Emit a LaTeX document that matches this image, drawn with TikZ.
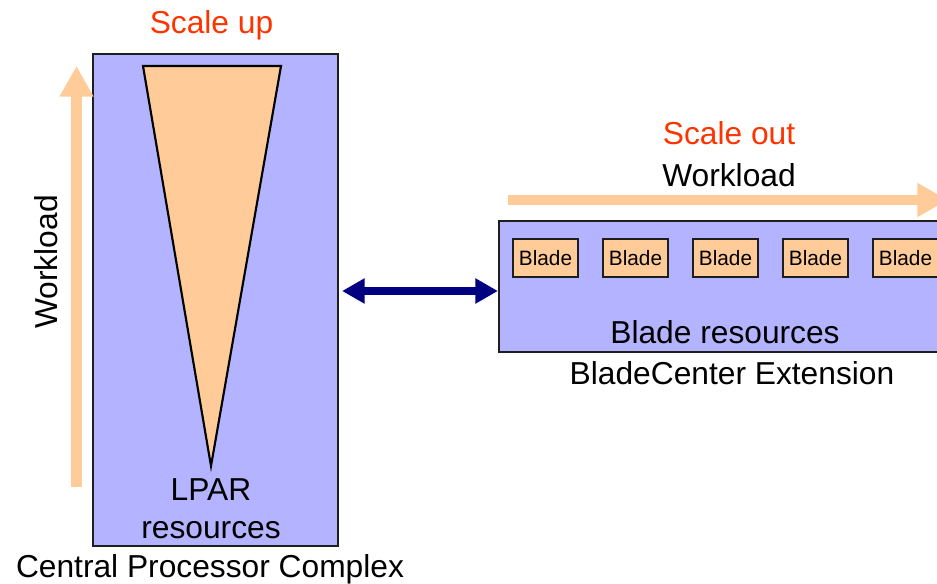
\documentclass[tikz,border=0pt]{standalone}
\usepackage{fontspec}
\setmainfont{Liberation Sans}
\usetikzlibrary{arrows.meta,fit}
\definecolor{lav}{RGB}{179,179,255}
\definecolor{peach}{RGB}{255,204,153}
\definecolor{scalered}{RGB}{255,51,0}
\definecolor{navyarrow}{RGB}{0,0,128}
\definecolor{rim}{RGB}{30,30,30}
\begin{document}
\begin{tikzpicture}[x=0.75pt,y=-0.75pt,
  panel/.style={draw=rim, line width=1.6pt, fill=lav, inner sep=0pt},
  bladebox/.style={draw=rim, line width=1pt, fill=peach, minimum width=48.75pt,
    minimum height=28.5pt, inner sep=0pt, font=\fontsize{15.6}{18}\selectfont},
  lbl/.style={font=\fontsize{23.8}{28}\selectfont, anchor=base, inner sep=0pt},
  scalelbl/.style={lbl, text=scalered},
  loadarrow/.style={draw=peach, line width=8pt,
    -{Triangle[width=24pt, length=23pt]}},
  linkarrow/.style={draw=navyarrow, line width=6pt,
    {Triangle[width=18pt, length=17pt]}-{Triangle[width=18pt, length=17pt]}},
]
\useasboundingbox (0,0) rectangle (937,584);

% Central Processor Complex
\node[panel, fit={(93,54) (338,546)}] (cpc) {};
\draw[black, line width=1.6pt, fill=peach, line join=miter]
  (143,66) -- (281,66) -- (211,466) -- cycle;
\node[lbl] (lpar) at (211,500) {LPAR};
\node[lbl] (lparres) at (211,538) {resources};
\node[lbl] (cpclbl) at (210,577) {Central Processor Complex};
\node[scalelbl] (scaleup) at (211.5,34) {Scale up};

% vertical workload arrow
\coordinate (upfoot) at (76.5,487);
\coordinate (uptip) at (76.5,66);
\draw[loadarrow] (upfoot) -- (uptip);
\node[lbl, rotate=90] (loadv) at (57,262) {Workload};

% BladeCenter Extension
\node[panel, fit={(499,221) (950,352)}] (bce) {};
\foreach \i/\x in {1/545.5, 2/635.5, 3/725.5, 4/815.5, 5/905.5}
  \node[bladebox] (blade\i) at (\x,258) {Blade};
\node[lbl] (bladeres) at (725,343) {Blade resources};
\node[lbl] (bcelbl) at (732,384) {BladeCenter Extension};
\node[scalelbl] (scaleout) at (729,145) {Scale out};
\node[lbl] (loadh) at (729,187) {Workload};

% horizontal workload arrow
\coordinate (rtfoot) at (508,200);
\coordinate (rttip) at (948,200);
\draw[loadarrow] (rtfoot) -- (rttip);

% link between the two
\path (cpc.east |- 0,291) ++(3,0) coordinate (linkl)
  (bce.west |- 0,291) coordinate (linkr);
\draw[linkarrow] (linkl) -- (linkr);
\end{tikzpicture}
\end{document}
